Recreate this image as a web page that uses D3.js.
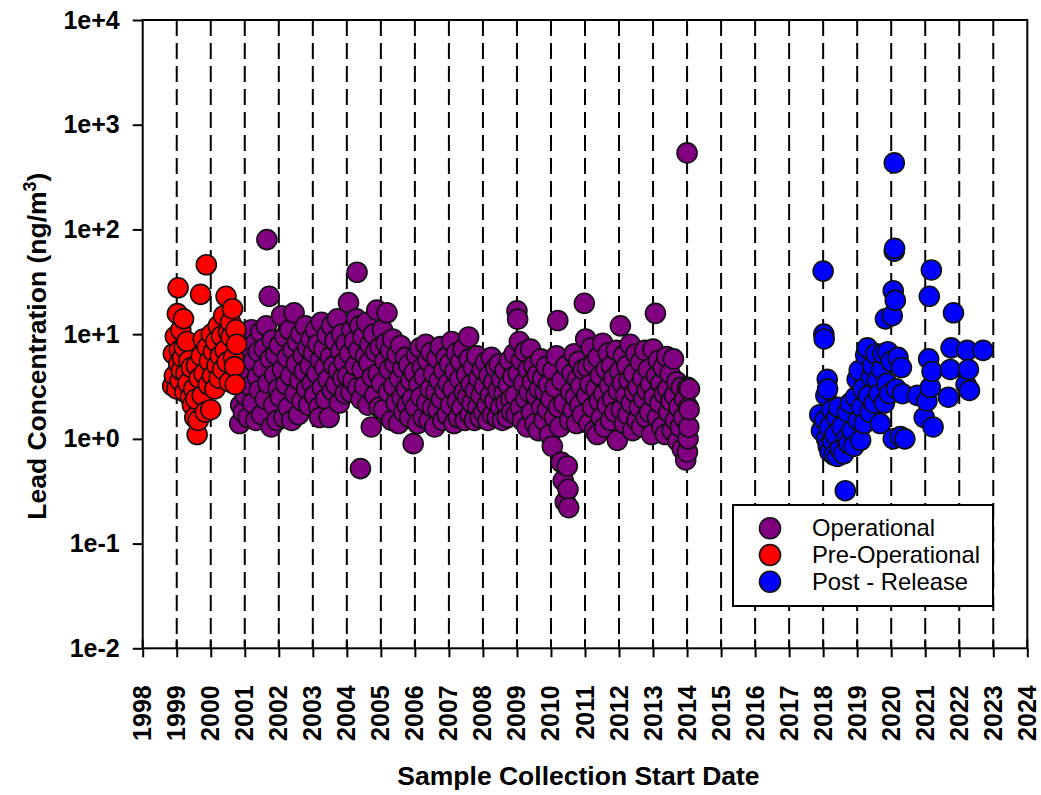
<!DOCTYPE html>
<html>
<head>
<meta charset="utf-8">
<script src="https://cdn.jsdelivr.net/npm/d3@7"></script>
<style>
  html, body { margin: 0; padding: 0; background: #fff; }
  svg { display: block; }
  text { font-family: "Liberation Sans", Arial, Helvetica, sans-serif; fill: #000; }
</style>
</head>
<body>
<script>
// ---------------- DATA ----------------
const xTickYears = [1998,1999,2000,2001,2002,2003,2004,2005,2006,2007,2008,2009,2010,2011,2012,2013,2014,2015,2016,2017,2018,2019,2020,2021,2022,2023,2024];
const yTickValues = [1e-2, 1e-1, 1e0, 1e1, 1e2, 1e3, 1e4];
const yTickLabels = ["1e-2", "1e-1", "1e+0", "1e+1", "1e+2", "1e+3", "1e+4"];
const seriesNames = ["Operational", "Pre-Operational", "Post - Release"];
const seriesColors = ["#800080", "#ff0000", "#0000ff"];

// [decimal year, lead concentration ng/m3]
const preOperational = [
  [1998.88,3.2],[1998.9,6.5],[1998.93,4.0],[1998.96,9.5],[1999.0,3.0],[1999.02,15.7],[1999.04,27.7],[1999.06,5.2],
  [1999.08,7.0],[1999.1,3.6],[1999.12,11],[1999.14,4.5],[1999.17,6.0],[1999.2,14],[1999.22,7.5],[1999.24,2.8],
  [1999.27,4.2],[1999.3,8.5],[1999.33,3.4],[1999.36,5.6],[1999.4,2.5],[1999.43,4.8],[1999.46,2.1],[1999.5,3.0],
  [1999.53,1.6],[1999.56,2.4],[1999.58,5.0],[1999.6,1.1],[1999.63,1.5],[1999.66,3.8],[1999.7,24],[1999.72,6.2],
  [1999.75,2.6],[1999.78,9.0],[1999.8,4.2],[1999.84,1.8],[1999.87,46],[1999.9,7.5],[1999.93,3.3],[1999.96,5.5],
  [2000.0,1.9],[2000.02,10],[2000.05,4.0],[2000.08,6.8],[2000.12,3.0],[2000.15,8.5],[2000.18,5.0],[2000.22,12],
  [2000.25,3.8],[2000.28,6.2],[2000.32,9.6],[2000.35,4.6],[2000.38,15],[2000.42,7.0],[2000.45,23],[2000.48,5.4],
  [2000.52,10.5],[2000.55,3.5],[2000.58,13],[2000.6,9.4],[2000.64,17.5],[2000.67,6.0],[2000.7,4.9],[2000.72,3.3],
  [2000.74,11],[2000.76,8.0]
];

const operational = [
  [2000.85,1.4],[2000.88,2.1],[2000.9,3.5],[2000.93,5.2],[2000.96,1.8],[2000.98,7.5],
  [2001.02,2.6],[2001.05,4.3],[2001.08,9.2],[2001.1,1.6],[2001.13,6.1],[2001.16,3.2],[2001.2,11],[2001.23,2.2],
  [2001.26,5.5],[2001.3,8.1],[2001.33,1.5],[2001.37,3.9],[2001.4,6.8],[2001.43,2.9],[2001.47,10.5],[2001.5,1.7],
  [2001.54,4.7],[2001.57,7.3],[2001.6,2.4],[2001.63,12],[2001.65,80],[2001.68,3.4],[2001.72,23],[2001.75,5.8],
  [2001.78,1.3],[2001.81,8.8],[2001.85,2.1],[2001.88,4.1],[2001.91,6.4],[2001.95,1.5],[2001.98,3.0],
  [2002.02,7.8],[2002.05,2.5],[2002.08,15],[2002.11,4.6],[2002.15,1.6],[2002.18,9.5],[2002.21,3.3],[2002.25,6.0],
  [2002.28,2.0],[2002.32,11],[2002.35,4.0],[2002.38,1.5],[2002.42,7.1],[2002.45,16],[2002.48,2.7],[2002.52,5.2],
  [2002.55,8.4],[2002.58,1.7],[2002.62,3.6],[2002.65,10],[2002.68,2.3],[2002.72,6.3],[2002.75,4.4],[2002.78,12],
  [2002.82,3.0],[2002.85,7.4],[2002.88,2.1],[2002.92,5.0],[2002.95,9.0],[2002.98,3.4],
  [2003.02,6.6],[2003.05,2.6],[2003.08,11],[2003.12,4.2],[2003.15,8.0],[2003.18,2.0],[2003.2,1.6],[2003.22,5.6],
  [2003.25,13],[2003.28,3.1],[2003.32,7.2],[2003.35,4.8],[2003.38,2.4],[2003.42,9.8],[2003.45,3.7],[2003.48,1.6],
  [2003.52,6.1],[2003.55,12],[2003.58,2.9],[2003.62,5.0],[2003.65,8.6],[2003.68,3.3],[2003.72,14],[2003.75,4.5],
  [2003.78,2.2],[2003.82,6.9],[2003.85,10],[2003.88,3.8],[2003.92,5.4],[2003.95,2.7],[2003.98,8.2],
  [2004.02,4.0],[2004.05,20],[2004.08,6.5],[2004.12,2.8],[2004.15,11],[2004.18,3.6],[2004.22,8.5],[2004.25,5.0],
  [2004.28,14],[2004.3,39],[2004.32,3.1],[2004.35,7.0],[2004.38,12],[2004.4,0.52],[2004.42,2.4],[2004.45,4.6],
  [2004.48,9.4],[2004.52,3.2],[2004.55,6.2],[2004.58,13],[2004.62,2.1],[2004.65,5.3],[2004.68,8.0],[2004.72,1.3],
  [2004.75,3.9],[2004.78,10],[2004.82,2.6],[2004.85,6.8],[2004.88,17],[2004.92,4.2],[2004.95,2.0],[2004.98,7.5],
  [2005.02,3.4],[2005.05,11],[2005.08,1.9],[2005.12,5.5],[2005.15,8.2],[2005.18,16],[2005.22,2.8],[2005.25,4.6],
  [2005.28,7.0],[2005.32,1.5],[2005.35,9.0],[2005.38,3.2],[2005.42,5.2],[2005.45,2.2],[2005.48,6.4],[2005.52,1.4],
  [2005.55,3.8],[2005.58,7.8],[2005.62,2.5],[2005.65,4.7],[2005.68,1.8],[2005.72,6.0],[2005.75,3.0],[2005.78,2.1],
  [2005.82,5.1],[2005.85,1.6],[2005.88,3.6],[2005.92,2.4],[2005.95,0.9],[2005.98,4.3],
  [2006.02,2.0],[2006.05,6.3],[2006.08,1.4],[2006.12,3.3],[2006.15,7.4],[2006.18,2.5],[2006.22,4.8],[2006.25,1.6],
  [2006.28,3.9],[2006.32,8.0],[2006.35,2.2],[2006.38,5.6],[2006.42,1.5],[2006.45,3.0],[2006.48,6.7],[2006.52,2.0],
  [2006.55,4.2],[2006.58,1.3],[2006.62,2.8],[2006.65,5.9],[2006.68,1.9],[2006.72,3.6],[2006.75,7.6],[2006.78,2.4],
  [2006.82,1.5],[2006.85,4.5],[2006.88,2.9],[2006.92,6.0],[2006.95,1.7],[2006.98,3.4],
  [2007.02,5.2],[2007.05,2.1],[2007.08,8.5],[2007.12,3.0],[2007.15,1.4],[2007.18,4.4],[2007.22,6.6],[2007.25,2.3],
  [2007.28,1.6],[2007.32,3.7],[2007.35,5.5],[2007.38,2.0],[2007.42,7.2],[2007.45,2.8],[2007.48,1.5],[2007.52,4.1],
  [2007.55,2.5],[2007.58,9.4],[2007.6,5.8],[2007.62,1.7],[2007.65,3.3],[2007.68,2.2],[2007.72,4.8],[2007.75,1.5],
  [2007.78,2.9],[2007.82,6.2],[2007.85,2.0],[2007.88,3.8],[2007.92,1.6],[2007.95,2.6],[2007.98,4.6],
  [2008.02,1.8],[2008.05,3.2],[2008.08,5.4],[2008.12,2.1],[2008.15,1.5],[2008.18,4.0],[2008.22,2.6],[2008.25,6.0],
  [2008.28,1.7],[2008.32,3.5],[2008.35,2.3],[2008.38,4.8],[2008.42,1.6],[2008.45,2.9],[2008.48,5.2],[2008.52,2.0],
  [2008.55,3.7],[2008.58,1.5],[2008.62,2.7],[2008.65,4.5],[2008.68,2.2],[2008.72,1.6],[2008.75,3.3],[2008.78,5.6],
  [2008.82,2.4],[2008.85,1.8],[2008.88,3.9],[2008.92,6.5],[2008.95,2.6],[2008.98,1.7],
  [2009.0,16.7],[2009.02,13.9],[2009.04,4.2],[2009.07,8.5],[2009.1,2.0],[2009.13,5.6],[2009.16,1.5],[2009.2,3.4],
  [2009.23,6.8],[2009.26,2.4],[2009.3,1.3],[2009.33,4.6],[2009.36,2.8],[2009.4,7.2],[2009.43,1.8],[2009.46,3.5],
  [2009.5,5.0],[2009.53,1.4],[2009.56,2.6],[2009.6,4.1],[2009.63,1.2],[2009.66,3.0],[2009.7,5.8],[2009.73,2.0],
  [2009.76,3.8],[2009.8,1.5],[2009.83,2.8],[2009.86,4.9],[2009.9,1.9],[2009.93,3.3],[2009.96,1.1],
  [2010.0,2.4],[2010.04,0.85],[2010.06,4.5],[2010.1,1.6],[2010.13,3.1],[2010.16,6.2],[2010.2,13.5],[2010.22,2.0],
  [2010.26,1.3],[2010.3,0.6],[2010.32,3.6],[2010.36,0.4],[2010.38,2.2],[2010.42,0.25],[2010.44,5.0],[2010.48,0.55],
  [2010.5,0.33],[2010.52,0.22],[2010.55,1.5],[2010.58,2.8],[2010.62,4.2],[2010.65,1.9],[2010.68,6.5],[2010.72,2.5],
  [2010.75,1.4],[2010.78,3.7],[2010.82,5.5],[2010.85,2.1],[2010.88,3.2],[2010.92,1.7],[2010.95,4.6],[2010.98,19.7],
  [2011.02,9.0],[2011.05,2.6],[2011.08,4.8],[2011.12,1.4],[2011.15,3.3],[2011.18,7.4],[2011.22,2.0],[2011.25,5.2],
  [2011.28,1.2],[2011.32,3.0],[2011.36,1.1],[2011.38,6.0],[2011.42,2.3],[2011.45,4.0],[2011.48,1.6],[2011.52,8.2],
  [2011.55,2.7],[2011.58,1.3],[2011.62,4.6],[2011.65,2.1],[2011.68,6.6],[2011.72,3.2],[2011.75,1.5],[2011.78,5.0],
  [2011.82,2.4],[2011.85,3.8],[2011.88,1.8],[2011.92,7.0],[2011.95,0.97],[2011.98,2.9],
  [2012.02,4.4],[2012.04,12],[2012.07,1.9],[2012.1,3.4],[2012.13,6.2],[2012.16,1.4],[2012.2,2.6],[2012.23,5.0],
  [2012.26,1.7],[2012.3,3.6],[2012.33,8.0],[2012.36,2.2],[2012.4,1.2],[2012.43,4.2],[2012.46,2.8],[2012.5,6.5],
  [2012.53,1.5],[2012.56,3.1],[2012.6,2.0],[2012.63,5.4],[2012.66,1.3],[2012.7,3.8],[2012.73,2.4],[2012.76,7.0],
  [2012.8,1.6],[2012.83,2.9],[2012.86,4.6],[2012.9,1.8],[2012.93,3.3],[2012.96,1.1],
  [2013.0,7.2],[2013.03,2.5],[2013.07,15.8],[2013.1,4.0],[2013.13,1.6],[2013.16,5.6],[2013.2,2.2],[2013.23,3.4],
  [2013.26,1.3],[2013.3,4.8],[2013.33,2.7],[2013.36,1.1],[2013.4,6.1],[2013.43,3.0],[2013.46,1.8],[2013.5,4.2],
  [2013.53,2.3],[2013.56,1.2],[2013.6,5.8],[2013.63,2.6],[2013.66,1.5],[2013.7,3.5],[2013.73,0.95],[2013.76,2.0],
  [2013.8,1.3],[2013.83,3.1],[2013.86,0.8],[2013.9,1.6],[2013.93,2.4],[2013.96,0.63],
  [2014.0,538],[2014.01,0.75],[2014.02,3.1],[2014.03,1.0],[2014.04,2.0],[2014.05,1.3],[2014.06,1.9],[2014.07,3.0]
];

const postRelease = [
  [2017.9,1.7],[2017.95,1.2],[2018.0,40],[2018.02,10],[2018.03,9],[2018.05,1.5],[2018.08,2.6],[2018.1,1.0],
  [2018.12,3.7],[2018.13,3.0],[2018.15,0.85],[2018.18,1.3],[2018.2,0.75],[2018.25,1.9],[2018.28,0.95],[2018.32,0.7],
  [2018.35,1.1],[2018.4,1.6],[2018.42,0.68],[2018.45,2.0],[2018.5,0.8],[2018.55,1.3],[2018.6,0.72],[2018.65,0.32],
  [2018.68,1.0],[2018.72,1.8],[2018.75,0.9],[2018.8,2.2],[2018.85,1.2],[2018.9,0.85],[2018.95,2.5],[2019.0,3.7],
  [2019.03,1.5],[2019.06,4.5],[2019.1,0.97],[2019.13,2.0],[2019.17,3.0],[2019.2,1.4],[2019.25,6.3],[2019.3,7.4],
  [2019.33,2.6],[2019.38,1.8],[2019.42,3.9],[2019.45,5.0],[2019.5,2.2],[2019.55,6.5],[2019.6,3.6],[2019.65,2.7],
  [2019.68,1.4],[2019.72,4.6],[2019.76,6.5],[2019.8,2.2],[2019.83,14],[2019.87,3.4],[2019.9,6.8],[2019.95,2.7],
  [2020.0,5.5],[2020.03,15],[2020.06,26],[2020.06,1.0],[2020.09,432],[2020.09,62],[2020.1,66],[2020.12,21],
  [2020.15,3.0],[2020.2,6.0],[2020.27,1.05],[2020.3,4.8],[2020.33,2.7],[2020.4,1.0],[2020.77,2.6],[2020.97,1.6],
  [2021.05,2.3],[2021.1,5.8],[2021.12,23],[2021.15,3.1],[2021.18,41],[2021.2,4.4],[2021.23,1.3],[2021.68,2.5],
  [2021.74,4.6],[2021.76,7.4],[2021.83,16],[2022.2,3.3],[2022.23,7.0],[2022.27,4.6],[2022.3,2.9],[2022.7,7.0]
];

const seriesData = [operational, preOperational, postRelease];

// ---------------- CHART ----------------
const W = 1041, H = 795;
const plot = { left: 142.7, right: 1027.3, top: 20, bottom: 648.3 };
const FONT_TICK = 25, FONT_TITLE = 26.5, FONT_LEGEND = 23.8;

const svg = d3.select("body").append("svg").attr("width", W).attr("height", H);
svg.append("rect").attr("width", W).attr("height", H).attr("fill", "#fff");

const x = d3.scaleLinear().domain([1998, 2024]).range([plot.left, plot.right]);
const y = d3.scaleLog().domain([1e-2, 1e4]).range([plot.bottom, plot.top]);

// dashed year lines
const inner = xTickYears.slice(1, -1);
svg.append("g").selectAll("line").data(inner).join("line")
  .attr("x1", d => x(d)).attr("x2", d => x(d))
  .attr("y1", plot.top).attr("y2", plot.bottom)
  .attr("stroke", "#000").attr("stroke-width", 2)
  .attr("stroke-dasharray", "16,7");

// inner tick marks at the bottom
svg.append("g").selectAll("line").data(xTickYears).join("line")
  .attr("x1", d => x(d)).attr("x2", d => x(d))
  .attr("y1", plot.bottom - 9).attr("y2", plot.bottom)
  .attr("stroke", "#000").attr("stroke-width", 2);

// x axis
const xAxis = d3.axisBottom(x).tickValues(xTickYears).tickFormat(d3.format("d"))
  .tickSize(9).tickSizeOuter(0).tickPadding(0);
const gx = svg.append("g").attr("transform", `translate(0,${plot.bottom})`).call(xAxis);
gx.select(".domain").remove();
gx.selectAll(".tick line").attr("stroke", "#000").attr("stroke-width", 2);
gx.selectAll(".tick text")
  .attr("font-size", FONT_TICK).attr("font-weight", "bold")
  .attr("font-family", "'Liberation Sans', Arial, sans-serif")
  .attr("text-anchor", "end")
  .attr("transform", "translate(-1,37) rotate(-90)")
  .attr("x", 0).attr("y", 0).attr("dy", "0.36em");

// y axis
const yAxis = d3.axisLeft(y).tickValues(yTickValues)
  .tickFormat((d, i) => yTickLabels[i]).tickSize(10).tickSizeOuter(0).tickPadding(13);
const gy = svg.append("g").attr("transform", `translate(${plot.left},0)`).call(yAxis);
gy.select(".domain").remove();
gy.selectAll(".tick line").attr("stroke", "#000").attr("stroke-width", 2);
gy.selectAll(".tick text")
  .attr("font-size", FONT_TICK).attr("font-weight", "bold")
  .attr("font-family", "'Liberation Sans', Arial, sans-serif");

// frame
svg.append("rect")
  .attr("x", plot.left).attr("y", plot.top)
  .attr("width", plot.right - plot.left).attr("height", plot.bottom - plot.top)
  .attr("fill", "none").attr("stroke", "#000").attr("stroke-width", 2);

// points
[0, 1, 2].forEach(si => {
  svg.append("g").selectAll("circle").data(seriesData[si]).join("circle")
    .attr("cx", d => x(d[0])).attr("cy", d => y(d[1])).attr("r", 10)
    .attr("fill", seriesColors[si]).attr("stroke", "#111").attr("stroke-width", 1.6);
});

// axis titles
svg.append("text")
  .attr("x", (395 + 762) / 2).attr("y", 785)
  .attr("text-anchor", "middle").attr("font-size", FONT_TITLE).attr("font-weight", "bold")
  .text("Sample Collection Start Date");

const yt = svg.append("text")
  .attr("transform", `translate(46,${(plot.top + plot.bottom) / 2 + 12}) rotate(-90)`)
  .attr("text-anchor", "middle").attr("font-size", FONT_TITLE).attr("font-weight", "bold");
yt.append("tspan").text("Lead Concentration (ng/m");
yt.append("tspan").attr("font-size", 18).attr("dy", -10).text("3");
yt.append("tspan").attr("dy", 10).text(")");

// legend
const lg = svg.append("g");
lg.append("rect").attr("x", 733).attr("y", 505).attr("width", 260).attr("height", 101)
  .attr("fill", "#fff").attr("stroke", "#000").attr("stroke-width", 2);
const legY = d3.scalePoint().domain(seriesNames).range([528.3, 581.7]);
seriesNames.forEach((name, i) => {
  lg.append("circle").attr("cx", 770).attr("cy", legY(name)).attr("r", 10.5)
    .attr("fill", seriesColors[i]).attr("stroke", "#111").attr("stroke-width", 1.6);
  lg.append("text").attr("x", 812).attr("y", legY(name) + 8)
    .attr("font-size", FONT_LEGEND).text(name);
});
</script>
</body>
</html>
